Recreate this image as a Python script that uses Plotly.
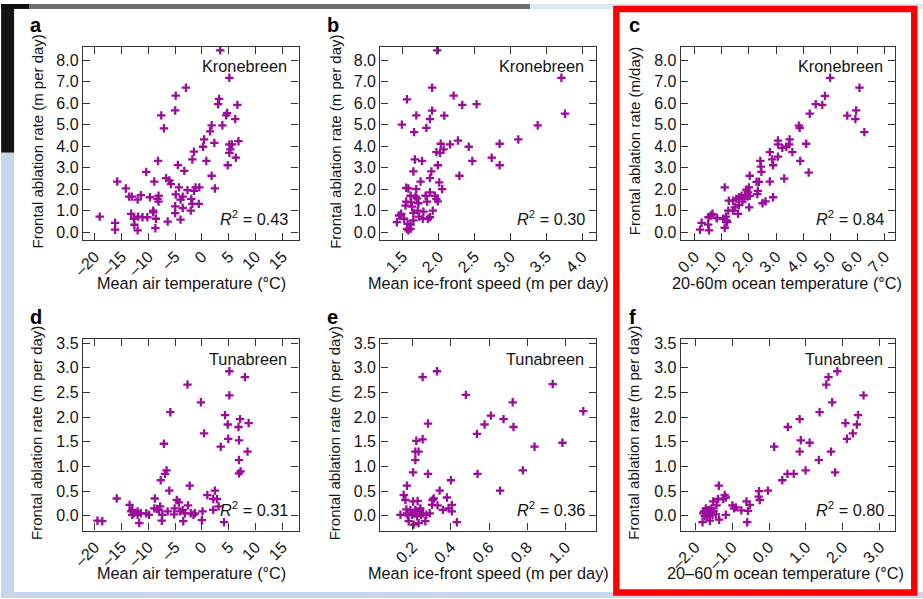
import plotly.graph_objects as go

W, H = 923, 599

# ---------------- data ----------------
# Panel a: Kronebreen, mean air temperature vs frontal ablation rate
a_x = [-19.07, -16.2, -16.2, -15.8, -14.2, -13.6, -13.1, -12.0, -11.4, -13.2, -12.7, -12.6, -12.0, -11.9,
       -11.1, -10.2, -9.7, -10.4, -8.9, -9.1, -9.1, -8.6, -8.7, -8.3, -8.1, -8.1, -8.2, -7.6, -7.1, -6.4,
       -6.7, -6.1, -5.8, -5.0, -4.9, -3.0, -4.5, -4.3, -4.9, -5.0, -5.0, -4.0, -3.6, -3.6, -4.0, -3.3,
       -2.7, -2.1, -1.8, -2.0, -1.8, -1.5, -1.5, -1.2, -0.5, -0.6, 0.2, 0.4, 0.8, 1.5, 1.8, 1.8, 2.3,
       2.4, 3.2, 3.0, 3.4, 3.8, 4.5, 4.7, 5.1, 4.8, 5.1, 5.1, 5.6, 6.2, 6.6, 6.3, 6.8, 5.3]
a_y = [0.72, 0.43, 0.11, 2.35, 2.03, 1.65, 1.65, 1.51, 1.72, 0.85, 0.62, 0.34, 0.08, 0.72,
       0.69, 0.69, 1.62, 2.80, 2.35, 1.00, 0.92, 0.62, 0.18, 1.54, 1.69, 1.42, 3.31, 5.43, 4.83, 0.49,
       2.51, 2.40, 2.23, 5.66, 6.35, 6.72, 3.12, 2.08, 1.75, 1.20, 0.88, 0.58, 1.12, 1.65, 1.51, 2.85,
       1.95, 1.00, 1.31, 1.54, 3.38, 3.74, 1.92, 2.08, 2.08, 1.31, 3.97, 4.31, 3.31, 4.69, 4.97, 2.62, 4.15,
       2.03, 6.20, 5.95, 8.46, 4.97, 5.43, 5.54, 7.18, 3.11, 3.69, 4.08, 4.08, 5.26, 5.92, 3.46, 4.23, 3.85]

# Panel b: Kronebreen, mean ice-front speed
b_x = [1.42, 1.45, 1.48, 1.49, 1.52, 1.54, 1.55, 1.55, 1.56, 1.58, 1.56, 1.57, 1.58, 1.61, 1.61, 1.62,
       1.61, 1.63, 1.65, 1.66, 1.65, 1.67, 1.68, 1.69, 1.69, 1.70, 1.71, 1.73, 1.75, 1.77, 1.78, 1.79,
       1.82, 1.83, 1.84, 1.85, 1.88, 1.88, 1.88, 1.90, 1.91, 1.91, 1.92, 1.95, 1.97, 1.98, 1.99, 1.97,
       1.99, 2.01, 2.02, 2.03, 2.05, 2.07, 2.08, 2.16, 2.21, 2.27, 2.29, 2.33, 2.42, 2.47, 2.53, 2.74,
       2.85, 2.85, 3.11, 3.38, 3.71, 3.76, 1.88, 1.72, 1.65]
b_y = [0.46, 0.77, 0.85, 5.00, 0.62, 1.23, 1.42, 2.06, 6.18, 2.03, 0.15, 0.38, 0.08, 0.15, 0.35, 1.38,
       1.69, 1.18, 0.89, 4.65, 2.82, 3.38, 1.65, 5.43, 2.00, 1.57, 1.00, 0.72, 2.35, 3.31, 0.62, 0.95,
       1.69, 4.85, 1.42, 0.62, 5.26, 2.51, 1.85, 2.82, 6.72, 5.65, 1.00, 1.69, 1.54, 8.46, 1.43, 3.72,
       3.11, 2.31, 3.69, 4.11, 2.00, 3.85, 5.42, 4.08, 6.35, 4.26, 2.62, 5.92, 3.97, 3.31, 5.95, 3.46,
       4.11, 3.11, 4.31, 4.97, 7.18, 5.51, 0.69, 1.34, 0.54]

# Panel c: Kronebreen, 20-60 m ocean temperature
c_x = [0.20, 0.26, 0.50, 0.53, 0.51, 0.60, 0.66, 0.81, 1.05, 1.11, 1.11, 1.15, 1.18, 1.24, 1.20, 1.26,
       1.42, 1.48, 1.54, 1.60, 1.63, 1.64, 1.73, 1.76, 1.82, 1.85, 1.91, 1.95, 2.00, 2.01, 2.03, 1.97,
       2.03, 2.28, 2.31, 2.33, 2.37, 2.42, 2.44, 2.46, 2.50, 2.61, 2.77, 2.77, 2.89, 2.86, 2.89, 3.07,
       3.07, 3.07, 3.23, 3.30, 3.38, 3.48, 3.50, 3.60, 3.84, 3.87, 3.89, 4.11, 4.20, 4.24, 4.46, 4.70,
       4.80, 4.99, 5.62, 5.95, 5.92, 6.07, 6.25, 0.83, 1.42]
c_y = [0.11, 0.43, 0.35, 0.08, 0.69, 0.77, 0.85, 0.65, 0.62, 2.08, 0.20, 0.72, 0.54, 1.00, 0.46, 1.46,
       1.00, 1.15, 1.54, 0.85, 1.26, 1.62, 1.69, 1.42, 1.54, 1.72, 1.97, 1.66, 2.08, 1.15, 2.62, 1.85,
       1.69, 2.34, 1.77, 1.92, 2.34, 3.31, 3.05, 2.80, 1.34, 1.43, 3.72, 2.35, 1.62, 3.38, 3.11, 4.26,
       4.08, 3.51, 3.92, 2.49, 3.97, 4.08, 4.31, 3.72, 4.95, 4.85, 3.31, 4.11, 2.77, 5.51, 5.95, 5.92,
       6.34, 7.18, 5.42, 5.66, 5.26, 6.72, 4.65, 0.65, 1.46]

# Panel d: Tunabreen, mean air temperature
d_x = [-19.5, -18.6, -15.9, -13.5, -13.2, -13.0, -12.7, -12.0, -11.7, -11.4, -10.4, -9.9, -8.9, -8.8,
       -8.4, -8.0, -7.8, -7.7, -7.5, -7.4, -7.1, -6.9, -6.6, -6.1, -6.4, -5.9, -5.1, -4.7, -4.3, -4.1,
       -3.6, -3.5, -3.2, -2.7, -2.6, -2.3, -2.1, -1.6, -1.3, -0.2, -0.03, 0.1, 0.4, 1.0, 2.1, 2.1, 2.4,
       2.8, 3.1, 3.5, 4.1, 4.3, 4.8, 4.9, 5.1, 5.1, 6.8, 6.9, 6.9, 6.9, 7.2, 7.1, 8.0, 8.7, 8.5,
       -13.0, -12.0, -5.2]
d_y = [-0.10, -0.11, 0.35, 0.22, 0.09, 0.02, 0.05, 0.09, -0.15, 0.05, 0.05, 0.02, 0.15, 0.35,
       0.14, 0.12, 0.19, 0.72, -0.10, 0.02, 1.46, 0.85, 0.92, 0.51, 0.09, 2.10, 0.15, 0.32, 0.27, 0.09,
       0.12, -0.11, 0.05, 2.66, 0.21, 0.61, 0.05, 0.02, 0.05, 2.30, -0.09, 0.09, 1.67, 0.42, 0.34, 0.12, 0.51,
       0.34, 0.19, 1.40, -0.13, 2.04, 1.85, 1.56, 2.93, 2.44, 1.80, 1.53, 1.13, 0.86, 0.90, 1.96, 2.81, 1.88, 1.30,
       0.12, 0.02, 0.03]

# Panel e: Tunabreen, mean ice-front speed
e_x = [0.136, 0.153, 0.162, 0.170, 0.167, 0.174, 0.179, 0.202, 0.202, 0.205, 0.209, 0.214, 0.214, 0.219,
       0.214, 0.223, 0.231, 0.226, 0.231, 0.237, 0.243, 0.252, 0.252, 0.254, 0.266, 0.280, 0.280, 0.289,
       0.301, 0.304, 0.310, 0.327, 0.330, 0.341, 0.358, 0.379, 0.388, 0.400, 0.405, 0.405, 0.431, 0.478,
       0.536, 0.539, 0.576, 0.609, 0.657, 0.675, 0.723, 0.727, 0.776, 0.837, 0.932, 0.983, 1.092,
       0.188, 0.197, 0.240, 0.170, 0.271]
e_y = [0.02, 0.42, 0.32, 0.61, 0.13, 0.01, -0.11, 0.88, 0.29, -0.18, 0.05, 1.13, 1.30, 1.52,
       0.12, -0.01, 1.30, 0.30, -0.15, 0.10, 0.02, 2.81, 1.55, 0.05, -0.11, 0.85, 1.87, 0.05,
       0.22, 0.32, 0.35, 2.93, 0.21, 0.51, 0.12, 0.37, 0.15, 0.72, 0.22, 0.09, -0.13, 2.45,
       1.66, 0.85, 1.85, 2.03, 0.51, 1.96, 2.30, 1.80, 0.92, 1.40, 2.67, 1.48, 2.12,
       0.12, 0.02, 0.15, 0.05, 0.02]

# Panel f: Tunabreen, 20-60 m ocean temperature
f_x = [-1.80, -1.78, -1.76, -1.74, -1.71, -1.69, -1.67, -1.65, -1.62, -1.60, -1.56, -1.53, -1.51, -1.50,
       -1.44, -1.42, -1.35, -1.38, -1.36, -1.24, -1.20, -1.17, -1.17, -0.99, -0.95, -0.90, -0.75, -0.61,
       -0.59, -0.57, -0.52, -0.28, -0.27, -0.25, -0.03, 0.14, 0.36, 0.50, 0.51, 0.67, 0.83, 0.83, 0.86,
       0.99, 1.10, 1.35, 1.37, 1.55, 1.61, 1.68, 1.71, 1.79, 1.85, 2.07, 2.11, 2.27, 2.38, 2.41, 2.56,
       -1.60, -1.69]
f_y = [-0.13, 0.05, 0.09, -0.01, 0.15, 0.05, -0.01, 0.09, 0.12, -0.10, 0.15, 0.02, 0.29, 0.09,
       0.03, 0.21, -0.08, 0.34, 0.61, 0.34, 0.42, 0.02, 0.37, 0.21, 0.15, 0.17, 0.11, 0.29,
       -0.13, 0.10, 0.22, 0.39, 0.50, 0.32, 0.51, 1.40, 0.72, 0.85, 1.80, 0.85, 1.96, 1.30, 1.53,
       0.92, 1.48, 1.13, 2.10, 2.66, 2.81, 1.30, 2.30, 0.88, 2.93, 1.88, 1.56, 1.67, 1.85, 2.04, 2.44,
       0.02, 0.12]

# tick labels
air_ticks = [-20, -15, -10, -5, 0, 5, 10, 15]
air_labels = ["\u201320", "\u201315", "\u201310", "\u20135", "0", "5", "10", "15"]
speed_k_ticks = [1.5, 2.0, 2.5, 3.0, 3.5, 4.0]
speed_k_labels = ["1.5", "2.0", "2.5", "3.0", "3.5", "4.0"]
ocean_k_ticks = [0, 1, 2, 3, 4, 5, 6, 7]
ocean_k_labels = ["0.0", "1.0", "2.0", "3.0", "4.0", "5.0", "6.0", "7.0"]
speed_t_ticks = [0.2, 0.4, 0.6, 0.8, 1.0]
speed_t_labels = ["0.2", "0.4", "0.6", "0.8", "1.0"]
ocean_t_ticks = [-2, -1, 0, 1, 2, 3]
ocean_t_labels = ["\u20132.0", "\u20131.0", "0.0", "1.0", "2.0", "3.0"]
yk_ticks = [0, 1, 2, 3, 4, 5, 6, 7, 8]
yk_labels = ["0.0", "1.0", "2.0", "3.0", "4.0", "5.0", "6.0", "7.0", "8.0"]
yt_ticks = [0, 0.5, 1.0, 1.5, 2.0, 2.5, 3.0, 3.5]
yt_labels = ["0.0", "0.5", "1.0", "1.5", "2.0", "2.5", "3.0", "3.5"]

r2_values = ["0.43", "0.30", "0.84", "0.31", "0.36", "0.80"]
glaciers = ["Kronebreen", "Kronebreen", "Kronebreen", "Tunabreen", "Tunabreen", "Tunabreen"]
letters = ["a", "b", "c", "d", "e", "f"]
x_titles = ["Mean air temperature (\u00b0C)", "Mean ice-front speed (m per day)",
            "20-60m ocean temperature (\u00b0C)", "Mean air temperature (\u00b0C)",
            "Mean ice-front speed (m per day)", "20\u201360\u2009m ocean temperature (\u00b0C)"]
y_titles = ["Frontal ablation rate (m per day)", "Frontal ablation rate (m per day)",
            "Frontal ablation rate (m/day)", "Frontal ablation rate (m per day)",
            "Frontal ablation rate (m per day)", "Frontal ablation rate (m per day)"]

# ---------------- layout geometry (target pixels in the photographed picture) ----------------
cols = [(82, 298), (380, 596), (681, 896)]
rows = [(43, 238), (338, 531)]
xranges = [[-22.2, 18.0], [1.19, 4.19], [-0.51, 7.39], [-22.2, 18.0], [0.031, 1.158], [-2.39, 3.42]]
yranges = [[-0.37, 8.63]] * 3 + [[-0.30, 3.58]] * 3
xticks = [(air_ticks, air_labels), (speed_k_ticks, speed_k_labels), (ocean_k_ticks, ocean_k_labels),
          (air_ticks, air_labels), (speed_t_ticks, speed_t_labels), (ocean_t_ticks, ocean_t_labels)]
yticks = [(yk_ticks, yk_labels)] * 3 + [(yt_ticks, yt_labels)] * 3
data = [(a_x, a_y), (b_x, b_y), (c_x, c_y), (d_x, d_y), (e_x, e_y), (f_x, f_y)]

ytitle_x = [36, 335, 635, 36, 334, 634]
xtitle_cx = [191, 488, 787, 191, 488, 786]
letter_x = [27, 325, 627, 27, 325, 627]

FONT = "Liberation Sans, Arial, Helvetica, sans-serif"
TXT = "#141414"
PURPLE = "#9b0c9b"
AX = "#333333"

# the photographed page maps paper x -> 10.9 + 0.989 * x ; compensate here
X_OFF, X_SC = 10.9, 0.989

def px(x):
    return (x - X_OFF) / X_SC / W

def py(y):
    return 1 - y / H

fig = go.Figure()
annotations = []
layout_axes = {}

for i in range(6):
    r, c = divmod(i, 3)
    x0, x1 = cols[c]
    y0, y1 = rows[r]
    xs = "" if i == 0 else str(i + 1)
    xname, yname = "x" + xs, "y" + xs
    fig.add_trace(go.Scatter(
        x=data[i][0], y=data[i][1], mode="markers", xaxis=xname, yaxis=yname,
        marker=dict(symbol="cross-thin", size=6, line=dict(color=PURPLE, width=2.3), color=PURPLE),
        showlegend=False, hoverinfo="skip"))
    common = dict(showline=True, linecolor=AX, linewidth=1.3, mirror="ticks", ticks="inside",
                  ticklen=7, tickwidth=1.2, tickcolor=AX, showgrid=False, zeroline=False,
                  tickfont=dict(family=FONT, size=16, color=TXT))
    layout_axes["xaxis" + xs] = dict(common, domain=[px(x0), px(x1)], range=xranges[i], anchor=yname,
                                     tickvals=xticks[i][0], ticktext=xticks[i][1], tickangle=-45)
    layout_axes["yaxis" + xs] = dict(common, domain=[py(y1), py(y0)], range=yranges[i], anchor=xname,
                                     tickvals=yticks[i][0], ticktext=yticks[i][1])

    # panel letter
    annotations.append(dict(text="<b>%s</b>" % letters[i], x=px(letter_x[i]), y=py(y0 - 22),
                            xref="paper", yref="paper", xanchor="left", yanchor="middle",
                            showarrow=False, font=dict(family=FONT, size=20, color="#000")))
    # glacier name
    annotations.append(dict(text=glaciers[i], x=px(x1 - 10), y=py(y0 + 20),
                            xref="paper", yref="paper", xanchor="right", yanchor="middle",
                            showarrow=False, font=dict(family=FONT, size=16.3, color=TXT)))
    # R^2
    annotations.append(dict(text="<i>R</i><sup>2</sup> = %s" % r2_values[i], x=px(x1 - 9), y=py(y1 - 22),
                            xref="paper", yref="paper", xanchor="right", yanchor="middle",
                            showarrow=False, font=dict(family=FONT, size=16.3, color=TXT)))
    # axis titles
    annotations.append(dict(text=x_titles[i], x=px(xtitle_cx[i]), y=py(y1 + 43),
                            xref="paper", yref="paper", xanchor="center", yanchor="middle",
                            showarrow=False, font=dict(family=FONT, size=16.3, color=TXT)))
    annotations.append(dict(text=y_titles[i], x=px(ytitle_x[i]), y=py((y0 + y1) / 2 - 2),
                            xref="paper", yref="paper", xanchor="center", yanchor="middle",
                            textangle=-90, showarrow=False, font=dict(family=FONT, size=15, color=TXT)))

def rect(x0, y0, x1, y1, fill=None, line=None, lw=0, layer="below"):
    d = dict(type="rect", xref="paper", yref="paper", x0=px(x0), x1=px(x1), y0=py(y1), y1=py(y0),
             layer=layer, line=dict(width=lw, color=line or "rgba(0,0,0,0)"))
    if fill:
        d["fillcolor"] = fill
    return d

shapes = [
    rect(0, 0, 13, 150, fill="#141414"),
    rect(0, 150, 13, 599, fill="#c6d7ec"),
    rect(0, 0, 28, 5, fill="#111111"),
    rect(28, 0, 530, 5, fill="#6e6e6e"),
    rect(530, 0, 930, 5, fill="#dde7f3"),
    rect(0, 593, 930, 599, fill="#c6d7ec"),
    rect(616.5, 5, 915, 593.5, line="#ff0000", lw=6.5, layer="above"),
]

fig.update_layout(
    width=W, height=H, margin=dict(l=0, r=0, t=0, b=0),
    paper_bgcolor="white", plot_bgcolor="white",
    annotations=annotations, shapes=shapes, **layout_axes)

fig.write_html(
    "out.html",
    post_script=("document.body.style.margin='0px';"
                 "document.body.style.background='linear-gradient(#141414 0px, #141414 150px, #c6d7ec 150px)';"),
    config={"displayModeBar": False})
